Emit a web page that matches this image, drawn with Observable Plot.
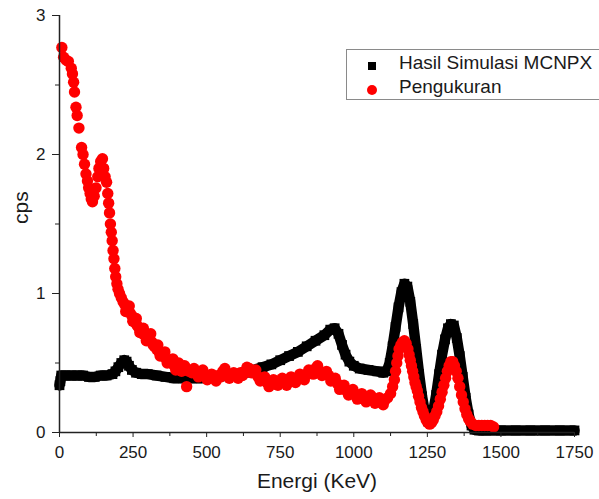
<!DOCTYPE html>
<html>
<head>
<meta charset="utf-8">
<script src="https://cdn.jsdelivr.net/npm/d3@7"></script>
<script src="https://cdn.jsdelivr.net/npm/@observablehq/plot@0.6"></script>
<style>
  body { margin: 0; background: #fff; }
  #wrap { position: relative; width: 599px; height: 499px; font-family: "Liberation Sans", Arial, sans-serif; }
  #legend { position: absolute; left: 346px; top: 49px; width: 260px; height: 51px; border: 1px solid #8a8a8a; background: #fff; box-sizing: border-box; }
  .row { position: absolute; left: 0; font-size: 19px; color: #1a1a1a; white-space: nowrap; }
  .row span.t { position: absolute; left: 52px; top: 0; }
  .sq { position: absolute; left: 21px; width: 8px; height: 8px; background: #000; }
  .ci { position: absolute; left: 20px; width: 10px; height: 10px; border-radius: 50%; background: #f00; }
</style>
</head>
<body>
<div id="wrap">
  <div id="chart"></div>
  <div id="legend">
    <div class="row" style="top:2px"><div class="sq" style="top:10px"></div><span class="t">Hasil Simulasi MCNPX</span></div>
    <div class="row" style="top:26px"><div class="ci" style="top:9px"></div><span class="t">Pengukuran</span></div>
  </div>
</div>
<script>
// Energy (keV) and counts per second
const simEnergy = [0, 3, 6, 20, 40, 60, 80, 100, 120, 140, 160, 180, 190, 200, 210, 220, 228, 236, 246, 260, 280, 300, 330, 360, 390, 420, 450, 480, 510, 540, 570, 600, 630, 660, 690, 720, 750, 780, 810, 840, 870, 900, 920, 935, 948, 960, 972, 985, 1000, 1020, 1050, 1080, 1100, 1112, 1122, 1132, 1142, 1152, 1162, 1172, 1182, 1192, 1202, 1212, 1222, 1232, 1242, 1252, 1260, 1270, 1280, 1290, 1300, 1310, 1320, 1330, 1340, 1350, 1360, 1370, 1380, 1390, 1400, 1410, 1425, 1450, 1500, 1550, 1600, 1650, 1700, 1750];
const simCps = [0.34, 0.37, 0.41, 0.41, 0.41, 0.41, 0.41, 0.40, 0.40, 0.41, 0.41, 0.42, 0.44, 0.47, 0.50, 0.52, 0.51, 0.48, 0.45, 0.43, 0.42, 0.42, 0.41, 0.40, 0.39, 0.39, 0.39, 0.39, 0.40, 0.40, 0.41, 0.42, 0.43, 0.45, 0.47, 0.49, 0.52, 0.55, 0.58, 0.62, 0.66, 0.70, 0.74, 0.75, 0.71, 0.63, 0.56, 0.51, 0.48, 0.46, 0.45, 0.44, 0.43, 0.44, 0.50, 0.62, 0.76, 0.90, 1.01, 1.07, 1.05, 0.94, 0.78, 0.60, 0.42, 0.26, 0.14, 0.08, 0.08, 0.15, 0.27, 0.42, 0.56, 0.67, 0.75, 0.78, 0.77, 0.68, 0.55, 0.40, 0.25, 0.13, 0.05, 0.02, 0.015, 0.015, 0.015, 0.015, 0.015, 0.015, 0.015, 0.015];

const measEnergy = [8, 14, 22, 30, 40, 44, 48, 51, 56, 60, 66, 75, 80, 85, 90, 95, 99, 104, 108, 112, 118, 124, 130, 134, 140, 146, 150, 155, 160, 164, 167, 170, 173, 176, 179, 182, 185, 188, 191, 195, 199, 204, 210, 216, 222, 228, 234, 240, 246, 252, 258, 264, 270, 276, 282, 290, 298, 306, 314, 322, 330, 338, 346, 354, 362, 370, 380, 390, 400, 410, 420, 432, 440, 450, 465, 480, 495, 510, 525, 540, 555, 570, 585, 600, 615, 630, 645, 660, 675, 690, 705, 720, 735, 750, 765, 780, 795, 810, 825, 840, 855, 870, 885, 900, 915, 930, 945, 960, 975, 990, 1005, 1020, 1035, 1050, 1065, 1080, 1095, 1105, 1115, 1125, 1132, 1138, 1142, 1146, 1150, 1154, 1160, 1166, 1172, 1178, 1184, 1188, 1192, 1196, 1200, 1204, 1208, 1212, 1216, 1220, 1225, 1230, 1235, 1240, 1246, 1252, 1258, 1264, 1270, 1276, 1282, 1288, 1294, 1300, 1306, 1312, 1318, 1324, 1330, 1336, 1342, 1348, 1354, 1360, 1366, 1372, 1378, 1384, 1390, 1396, 1404, 1415, 1425, 1435, 1445, 1455, 1465, 1475,
  225, 237, 249, 261, 273, 285, 295, 310, 318, 334, 342, 358, 366, 385, 395, 405, 415, 425,
  457, 472, 487, 502, 517, 532, 547, 562, 577, 592, 607, 622, 637, 652, 667, 682, 697, 712, 727, 742, 757, 772, 787, 802, 817, 832, 847, 862, 877, 892, 907, 922, 937, 952, 967, 982, 997, 1012, 1027, 1042, 1057, 1072, 1087, 1100];
const measCps = [2.77, 2.70, 2.68, 2.67, 2.62, 2.58, 2.52, 2.45, 2.34, 2.28, 2.19, 2.05, 2.00, 1.93, 1.86, 1.81, 1.76, 1.72, 1.68, 1.66, 1.70, 1.76, 1.84, 1.90, 1.95, 1.97, 1.90, 1.84, 1.80, 1.72, 1.65, 1.58, 1.50, 1.44, 1.38, 1.31, 1.25, 1.18, 1.12, 1.07, 1.03, 1.00, 0.97, 0.94, 0.92, 0.90, 0.88, 0.86, 0.84, 0.82, 0.79, 0.77, 0.75, 0.73, 0.71, 0.70, 0.69, 0.68, 0.65, 0.62, 0.60, 0.58, 0.57, 0.55, 0.53, 0.52, 0.50, 0.48, 0.47, 0.47, 0.46, 0.33, 0.44, 0.43, 0.43, 0.43, 0.41, 0.40, 0.39, 0.41, 0.44, 0.42, 0.41, 0.41, 0.43, 0.44, 0.46, 0.43, 0.40, 0.38, 0.36, 0.35, 0.37, 0.37, 0.36, 0.37, 0.38, 0.39, 0.40, 0.42, 0.44, 0.46, 0.44, 0.42, 0.41, 0.38, 0.35, 0.32, 0.30, 0.29, 0.27, 0.26, 0.25, 0.24, 0.25, 0.23, 0.22, 0.23, 0.25, 0.28, 0.33, 0.38, 0.44, 0.50, 0.55, 0.60, 0.63, 0.65, 0.66, 0.64, 0.60, 0.56, 0.52, 0.48, 0.44, 0.40, 0.36, 0.33, 0.30, 0.26, 0.22, 0.18, 0.15, 0.12, 0.09, 0.07, 0.06, 0.07, 0.09, 0.12, 0.15, 0.19, 0.24, 0.29, 0.34, 0.39, 0.44, 0.48, 0.51, 0.51, 0.48, 0.44, 0.39, 0.33, 0.27, 0.22, 0.17, 0.13, 0.10, 0.08, 0.06, 0.05, 0.05, 0.05, 0.05, 0.05, 0.05, 0.04,
  0.87, 0.91, 0.80, 0.82, 0.72, 0.75, 0.66, 0.71, 0.63, 0.63, 0.55, 0.58, 0.50, 0.53, 0.45, 0.50, 0.44, 0.48,
  0.46, 0.40, 0.45, 0.38, 0.42, 0.37, 0.40, 0.46, 0.39, 0.43, 0.39, 0.41, 0.47, 0.43, 0.45, 0.37, 0.40, 0.33, 0.38, 0.34, 0.39, 0.34, 0.40, 0.36, 0.42, 0.38, 0.45, 0.42, 0.48, 0.41, 0.44, 0.37, 0.39, 0.31, 0.34, 0.27, 0.31, 0.24, 0.28, 0.22, 0.27, 0.21, 0.25, 0.20];

const xTicks = [0, 250, 500, 750, 1000, 1250, 1500, 1750];
const xMinor = [125, 375, 625, 875, 1125, 1375, 1625];
const yTicks = [0, 1, 2, 3];
const yMinor = [0.5, 1.5, 2.5];

const sim = simEnergy.map((e, i) => ({e, c: simCps[i]}));
const meas = measEnergy.map((e, i) => ({e, c: measCps[i]}));

const font = '"Liberation Sans", Arial, sans-serif';
const fmt = d => String(d);
const chart = Plot.plot({
  width: 599,
  height: 499,
  marginTop: 15,
  marginBottom: 67,
  marginLeft: 59,
  marginRight: 25,
  style: {fontFamily: font, background: "#fff", color: "#1a1a1a"},
  x: {domain: [0, 1750]},
  y: {domain: [0, 3]},
  marks: [
    Plot.line(sim, {x: "e", y: "c", stroke: "#000", strokeWidth: 10.5}),
    Plot.dot(sim, {x: "e", y: "c", symbol: "square", r: 5.5, fill: "#000"}),
    Plot.dot(meas, {x: "e", y: "c", r: 5.7, fill: "#f00"}),
    Plot.ruleX([0], {stroke: "#222", strokeWidth: 1.5}),
    Plot.ruleY([0], {stroke: "#222", strokeWidth: 1.5}),
    Plot.axisX(xTicks, {tickSize: 5, tickPadding: 8, fontSize: 17, label: null, stroke: "#222", tickFormat: fmt}),
    Plot.axisX(xMinor, {tickSize: 4, text: null, label: null, stroke: "#222"}),
    Plot.axisY(yTicks, {tickSize: 7, tickPadding: 7, fontSize: 17, label: null, stroke: "#222", tickFormat: fmt}),
    Plot.axisY(yMinor, {tickSize: 4, text: null, label: null, stroke: "#222"}),
    Plot.text(["Energi (KeV)"], {frameAnchor: "bottom", dy: 55, fontSize: 21, fill: "#1a1a1a"}),
    Plot.text(["cps"], {frameAnchor: "left", dx: -38, rotate: -90, fontSize: 21, fill: "#1a1a1a"})
  ]
});
document.getElementById("chart").appendChild(chart);
</script>
</body>
</html>
